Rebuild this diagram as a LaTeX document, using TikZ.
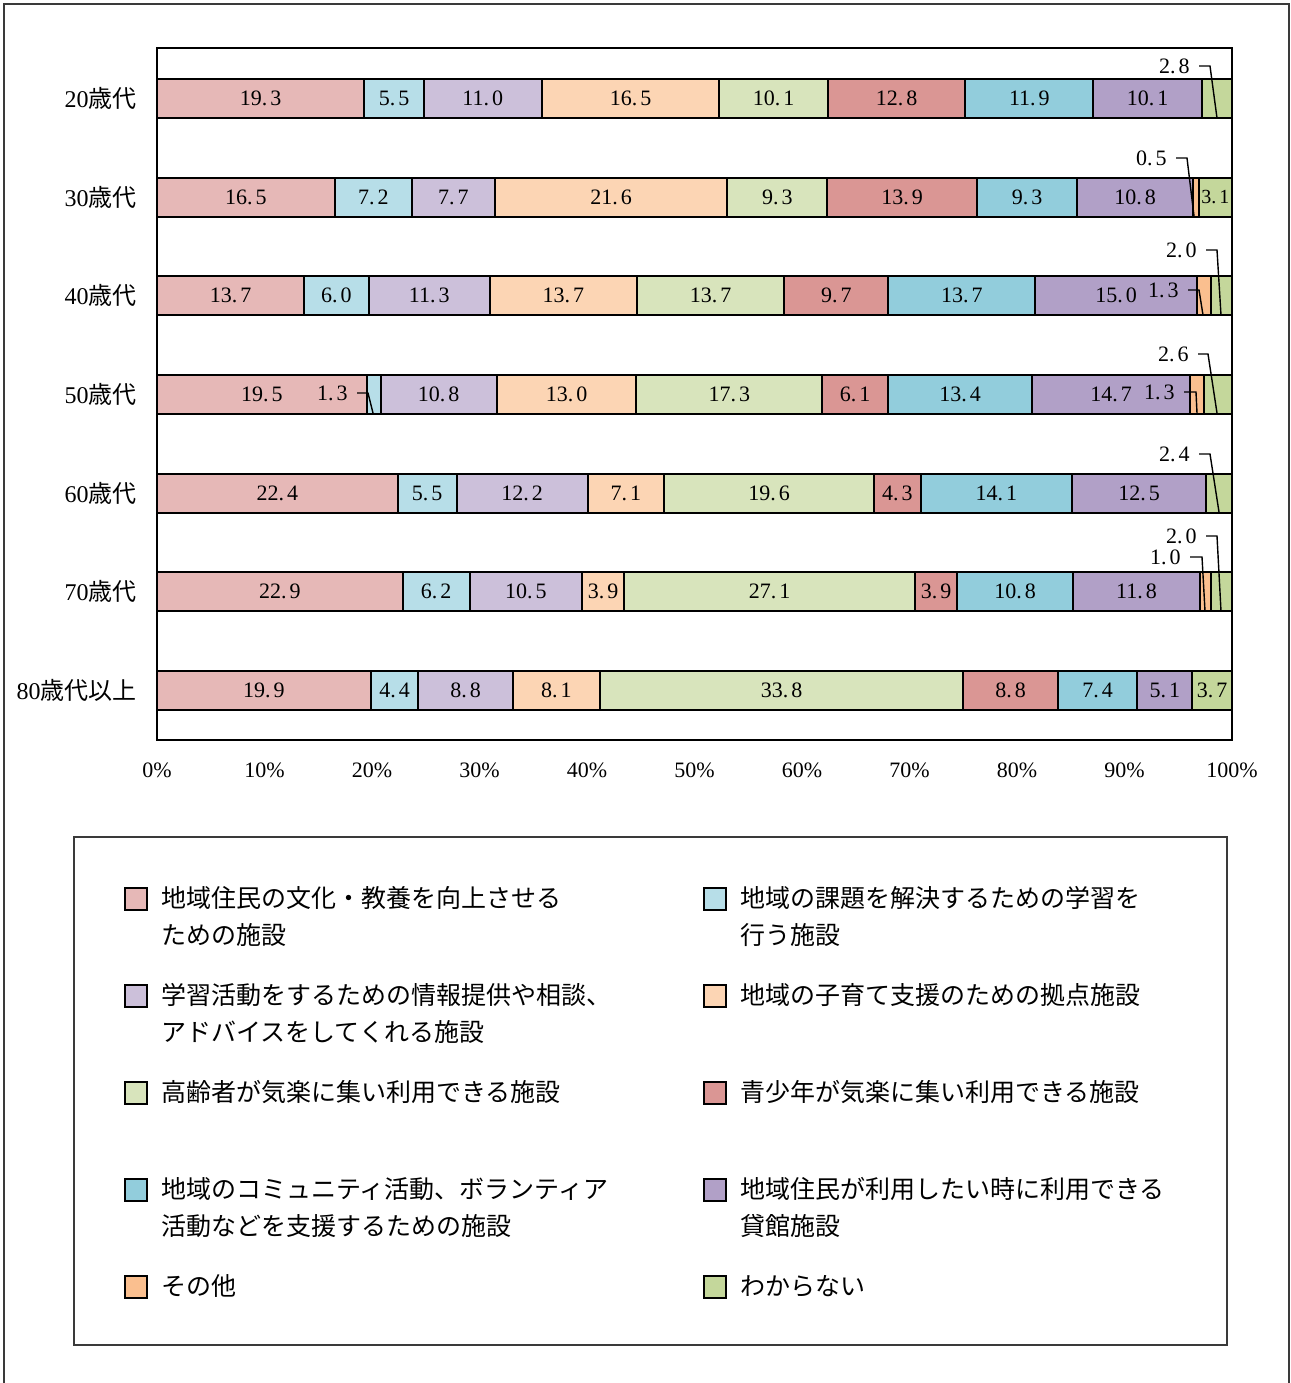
\documentclass[tikz,border=0pt]{standalone}
\usepackage{fontspec}
\setmainfont{Liberation Serif}
\newfontfamily\jp{Noto Sans CJK JP}
\definecolor{c1}{HTML}{E6B8B7}
\definecolor{c2}{HTML}{B7DEE8}
\definecolor{c3}{HTML}{CCC0DA}
\definecolor{c4}{HTML}{FCD5B4}
\definecolor{c5}{HTML}{D8E4BC}
\definecolor{c6}{HTML}{DA9694}
\definecolor{c7}{HTML}{92CDDC}
\definecolor{c8}{HTML}{B1A0C7}
\definecolor{c9}{HTML}{FABF8F}
\definecolor{c10}{HTML}{C4D79B}
\definecolor{framegray}{HTML}{3A3A3A}
\def\splitnum#1.#2\relax{#1.\kern1.5pt#2}
\newcommand\nf[1]{\expandafter\splitnum#1\relax}
\tikzset{
  segline/.style={draw=black, line width=1pt},
  numlab/.style={inner sep=0pt, font=\fontsize{11}{13}\selectfont},
  smalllab/.style={inner sep=0pt, font=\fontsize{10}{12}\selectfont},
  catlab/.style={inner sep=0pt, anchor=east, font=\fontsize{12}{14}\selectfont},
  axlab/.style={inner sep=0pt, font=\fontsize{11}{13}\selectfont},
  leaderline/.style={draw=black, line width=0.7pt},
  legsq/.style={draw=black, line width=1pt, minimum size=11pt, inner sep=0pt},
  legtxt/.style={anchor=west, inner sep=0pt, text height=0.88em, text depth=0.12em,
    font=\jp\fontsize{12.5}{15}\selectfont},
  boxline/.style={draw=framegray, line width=1pt}
}
% #1 name, #2 y centre, #3 row total, #4 values
\newcommand\drawrow[4]{%
  \gdef\cum{0}%
  \pgfmathsetmacro\kfac{1075/#3}%
  \foreach \v/\f [count=\i] in {#4}{%
    \pgfmathsetmacro\xa{157+\kfac*\cum}%
    \pgfmathsetmacro\xb{157+\kfac*(\cum+\v)}%
    \pgfmathsetmacro\newcum{\cum+\v}%
    \xdef\cum{\newcum}%
    \ifdim\v pt>0pt
      \draw[segline, fill=c\i] (\xa,#2-19.5) rectangle (\xb,#2+19.5);
    \fi
    \ifnum\f=1
      \node[numlab] (n#1-\i) at ({(\xa+\xb)/2},#2) {\nf{\v}};
    \fi
    \ifnum\f=2
      \node[smalllab] (n#1-\i) at ({(\xa+\xb)/2},#2) {\nf{\v}};
    \fi
  }%
}
\newcommand\leadr[7]{%
  \node[numlab, anchor=east] (#1) at (#3,#4) {\nf{#2}};
  \coordinate (#1b) at (#5,#4);
  \coordinate (#1e) at (#6,#7);
  \draw[leaderline] ([xshift=4.5pt]#1.east) -- (#1b) -- (#1e);
}
\begin{document}
\begin{tikzpicture}[x=0.5pt, y=-0.5pt]
\useasboundingbox (0,0) rectangle (1291,1383);
\fill[white] (0,0) rectangle (1291,1383);
% outer frame
\draw[boxline] (4,1383) -- (4,4) -- (1289,4) -- (1289,1383);
% plot frame
\draw[draw=black, line width=1pt] (157,48) rectangle (1232,740);
% bars
\drawrow{a}{98.5}{100}{19.3/1,5.5/1,11.0/1,16.5/1,10.1/1,12.8/1,11.9/1,10.1/1,0/0,2.8/0}
\drawrow{b}{197}{99.9}{16.5/1,7.2/1,7.7/1,21.6/1,9.3/1,13.9/1,9.3/1,10.8/1,0.5/0,3.1/2}
\drawrow{c}{295.5}{100.1}{13.7/1,6.0/1,11.3/1,13.7/1,13.7/1,9.7/1,13.7/1,15.0/1,1.3/0,2.0/0}
\drawrow{d}{394}{100}{19.5/1,1.3/0,10.8/1,13.0/1,17.3/1,6.1/1,13.4/1,14.7/1,1.3/0,2.6/0}
\drawrow{e}{493}{100.1}{22.4/1,5.5/1,12.2/1,7.1/1,19.6/1,4.3/1,14.1/1,12.5/1,0/0,2.4/0}
\drawrow{f}{591.5}{100.1}{22.9/1,6.2/1,10.5/1,3.9/1,27.1/1,3.9/1,10.8/1,11.8/1,1.0/0,2.0/0}
\drawrow{g}{690.5}{100}{19.9/1,4.4/1,8.8/1,8.1/1,33.8/1,8.8/1,7.4/1,5.1/1,0/0,3.7/1}
% leaders
\leadr{la}{2.8}{1190}{66}{1210}{1217}{118}
\leadr{lb}{0.5}{1167}{158}{1187}{1194}{216}
\leadr{lc1}{2.0}{1197}{250}{1217}{1221}{315}
\leadr{lc2}{1.3}{1179}{290}{1199}{1203}{315}
\leadr{ld1}{2.6}{1189}{354}{1208}{1217}{413}
\leadr{ld2}{1.3}{1175}{392}{1196}{1197}{413}
\leadr{ld3}{1.3}{348}{393}{368}{373}{413}
\leadr{le}{2.4}{1190}{454}{1210}{1219}{512}
\leadr{lf1}{2.0}{1197}{536}{1217}{1221}{611}
\leadr{lf2}{1.0}{1181}{557}{1202}{1205}{611}
% category labels
\node[catlab] (cat1) at (137,98.5) {20{\jp 歳代}};
\node[catlab] (cat2) at (137,197) {30{\jp 歳代}};
\node[catlab] (cat3) at (137,295.5) {40{\jp 歳代}};
\node[catlab] (cat4) at (137,394) {50{\jp 歳代}};
\node[catlab] (cat5) at (137,493) {60{\jp 歳代}};
\node[catlab] (cat6) at (137,591.5) {70{\jp 歳代}};
\node[catlab] (cat7) at (137,690.5) {80{\jp 歳代以上}};
% axis labels
\foreach \k [evaluate=\k as \p using int(10*\k)] in {0,...,10}
  \node[axlab] (ax\k) at ({157+107.5*\k},770) {\p\%};
% legend
\draw[boxline] (74,837) rectangle (1227,1345);
\node[legsq, fill=c1] (s1) at (136,899) {};
\node[legtxt] (t1a) at (161,900) {地域住民の文化・教養を向上させる};
\node[legtxt] (t1b) at (161,937) {ための施設};
\node[legsq, fill=c2] (s2) at (715,899) {};
\node[legtxt] (t2a) at (740,900) {地域の課題を解決するための学習を};
\node[legtxt] (t2b) at (740,937) {行う施設};
\node[legsq, fill=c3] (s3) at (136,996) {};
\node[legtxt] (t3a) at (161,997) {学習活動をするための情報提供や相談、};
\node[legtxt] (t3b) at (161,1034) {アドバイスをしてくれる施設};
\node[legsq, fill=c4] (s4) at (715,996) {};
\node[legtxt] (t4a) at (740,997) {地域の子育て支援のための拠点施設};
\node[legsq, fill=c5] (s5) at (136,1093) {};
\node[legtxt] (t5a) at (161,1094) {高齢者が気楽に集い利用できる施設};
\node[legsq, fill=c6] (s6) at (715,1093) {};
\node[legtxt] (t6a) at (740,1094) {青少年が気楽に集い利用できる施設};
\node[legsq, fill=c7] (s7) at (136,1190) {};
\node[legtxt] (t7a) at (161,1191) {地域のコミュニティ活動、ボランティア};
\node[legtxt] (t7b) at (161,1228) {活動などを支援するための施設};
\node[legsq, fill=c8] (s8) at (715,1190) {};
\node[legtxt] (t8a) at (740,1191) {地域住民が利用したい時に利用できる};
\node[legtxt] (t8b) at (740,1228) {貸館施設};
\node[legsq, fill=c9] (s9) at (136,1287) {};
\node[legtxt] (t9a) at (161,1288) {その他};
\node[legsq, fill=c10] (s10) at (715,1287) {};
\node[legtxt] (t10a) at (740,1288) {わからない};
\end{tikzpicture}
\end{document}
